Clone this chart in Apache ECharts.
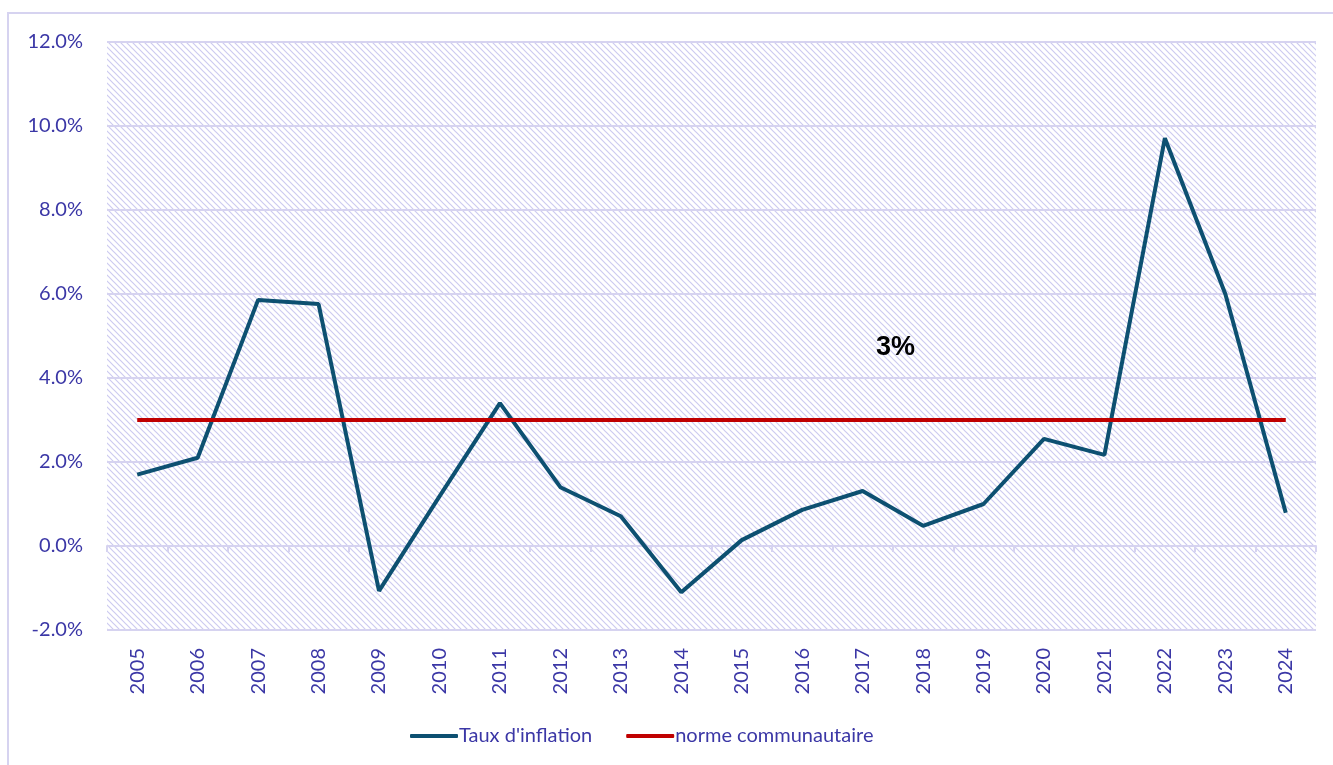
<!DOCTYPE html>
<html>
<head>
<meta charset="utf-8">
<script src="https://cdn.jsdelivr.net/npm/echarts@6/dist/echarts.min.js"></script>
<style>
    html, body { margin: 0; padding: 0; background: #fff; }
    #frame { position: absolute; left: 7px; top: 12px; width: 1340px; height: 770px; border: 2px solid #D6D3F0; box-sizing: border-box; }
    #chart { position: absolute; left: 0; top: 0; width: 1333px; height: 765px; }
</style>
</head>
<body>
<div id="frame"></div>
<div id="chart"></div>
<script>
    // données
    var years = ['2005', '2006', '2007', '2008', '2009', '2010', '2011', '2012', '2013', '2014',
        '2015', '2016', '2017', '2018', '2019', '2020', '2021', '2022', '2023', '2024'];
    var inflation = [1.7, 2.1, 5.86, 5.76, -1.07, 1.18, 3.4, 1.4, 0.71, -1.1,
        0.14, 0.86, 1.31, 0.48, 1.0, 2.55, 2.17, 9.71, 6.0, 0.79];
    var norme = [3, 3, 3, 3, 3, 3, 3, 3, 3, 3, 3, 3, 3, 3, 3, 3, 3, 3, 3, 3];
    var seriesNames = ["Taux d'inflation", 'norme communautaire'];

    var labelColor = '#3B37A6';
    var gridColor = '#D6D3F0';
    var font = 'Lato, "Open Sans", sans-serif';

    // fond hachuré
    var hatch = document.createElement('canvas');
    hatch.width = 6;
    hatch.height = 6;
    var ctx = hatch.getContext('2d');
    ctx.strokeStyle = '#CDCBF0';
    ctx.lineWidth = 1.2;
    ctx.beginPath();
    ctx.moveTo(-1, -1); ctx.lineTo(7, 7);
    ctx.moveTo(-4, 2); ctx.lineTo(2, 8);
    ctx.moveTo(4, -2); ctx.lineTo(8, 2);
    ctx.stroke();

    var myChart = echarts.init(document.getElementById('chart'));
    myChart.setOption({
        animation: false,
        grid: {
            left: 107, right: 17, top: 42, bottom: 135,
            show: true,
            borderWidth: 0,
            backgroundColor: { image: hatch, repeat: 'repeat' }
        },
        legend: {
            bottom: 14,
            left: 405,
            itemWidth: 48,
            itemHeight: 4,
            itemGap: 34,
            icon: 'roundRect',
            textStyle: { color: labelColor, fontSize: 20, fontFamily: font, padding: [0, 0, 0, -4] },
            data: seriesNames
        },
        graphic: [{
            type: 'text',
            left: 876,
            top: 334,
            style: { text: '3%', fontSize: 27, fontWeight: 'bold', fontFamily: 'Liberation Sans, Arial', fill: '#000' }
        }],
        xAxis: [{
            type: 'category',
            data: years,
            position: 'bottom',
            axisLine: { show: false, onZero: false },
            axisTick: { show: false },
            axisLabel: { rotate: 90, color: labelColor, fontSize: 20, fontFamily: font, margin: 18 }
        }, {
            type: 'category',
            data: years,
            position: 'bottom',
            axisLine: { show: true, onZero: true, lineStyle: { color: gridColor, width: 2 } },
            axisTick: { show: true, length: 6, lineStyle: { color: gridColor, width: 2 } },
            axisLabel: { show: false }
        }],
        yAxis: {
            type: 'value',
            min: -2,
            max: 12,
            interval: 2,
            axisLine: { show: false },
            axisTick: { show: false },
            splitLine: { lineStyle: { color: gridColor, width: 2 } },
            axisLabel: {
                color: labelColor, fontSize: 20, fontFamily: font, margin: 24,
                formatter: function (v) { return v.toFixed(1) + '%'; }
            }
        },
        series: [{
            name: seriesNames[0],
            type: 'line',
            data: inflation,
            symbol: 'none',
            color: '#0D5071',
            lineStyle: { width: 4, color: '#0D5071' }
        }, {
            name: seriesNames[1],
            type: 'line',
            data: norme,
            symbol: 'none',
            color: '#C00000',
            lineStyle: { width: 4, color: '#C00000' }
        }]
    });
</script>
</body>
</html>
